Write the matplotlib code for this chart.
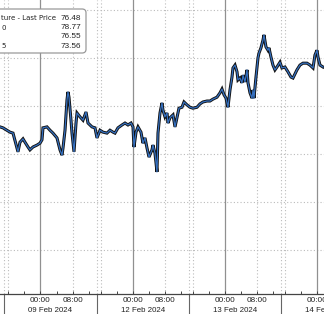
import matplotlib
matplotlib.use("Agg")
import matplotlib.pyplot as plt
import matplotlib.transforms as mtransforms
from matplotlib.patches import FancyBboxPatch

plt.rcParams['font.family'] = ['Liberation Sans', 'DejaVu Sans']

# trading-time hours since 09 Feb 2024 00:00 (each session = 23 h, 15:00 -> 14:00)
hours = [-10.09, -9.35, -8.35, -7.60, -6.85, -5.86, -5.61, -5.11, -4.36, -3.86,
         -3.11, -2.62, -1.87, -0.87, -0.12, 0.37, 0.62, 1.62, 2.37, 3.11,
         4.11, 4.86, 5.36, 5.61, 6.11, 6.60, 6.85, 7.10, 7.60, 7.85,
         8.35, 8.85, 9.10, 9.84, 10.59, 11.34, 11.84, 12.83, 13.58, 14.08,
         14.83, 15.57, 16.57, 17.32, 18.07, 18.56, 19.31, 20.31, 21.06, 21.80,
         22.55, 23.05, 23.30, 23.80, 24.30, 25.04, 25.54, 26.04, 26.54, 27.04,
         27.78, 28.03, 28.53, 29.03, 29.28, 29.78, 30.27, 30.52, 31.02, 31.52,
         31.77, 32.27, 33.02, 33.52, 34.01, 34.51, 35.26, 35.76, 36.50, 37.25,
         38.00, 39.00, 39.75, 40.49, 41.49, 42.24, 42.99, 43.98, 44.73, 45.23,
         45.73, 46.23, 46.72, 47.22, 47.72, 47.97, 48.47, 48.97, 49.21, 49.71,
         50.21, 50.46, 50.96, 51.46, 51.71, 52.21, 52.71, 52.95, 53.20, 53.70,
         54.20, 54.45, 54.94, 55.44, 55.69, 56.19, 56.69, 56.94, 57.43, 57.93,
         58.43, 58.93, 59.68, 60.17, 60.92, 61.67, 62.42, 62.92, 63.91, 64.66,
         65.41, 66.41, 67.16, 67.91, 68.40, 68.90, 69.15, 69.65, 70.40]
prices = [75.56, 75.54, 75.49, 75.45, 75.43, 75.12, 75.04, 75.24, 75.31, 75.24,
          75.14, 75.08, 75.14, 75.18, 75.22, 75.29, 75.54, 75.56, 75.49, 75.43,
          75.33, 75.08, 74.97, 75.12, 75.49, 76.12, 76.29, 76.18, 75.70, 75.43,
          75.04, 75.64, 75.85, 75.77, 75.70, 75.87, 75.64, 75.56, 75.54, 75.33,
          75.49, 75.45, 75.43, 75.49, 75.45, 75.43, 75.54, 75.60, 75.64, 75.60,
          75.64, 75.56, 75.14, 75.45, 75.56, 75.45, 75.22, 75.33, 75.12, 74.93,
          75.08, 75.18, 75.01, 74.62, 75.43, 75.85, 76.06, 75.91, 75.77, 75.85,
          75.64, 75.75, 75.81, 75.56, 75.75, 75.95, 75.97, 76.08, 76.02, 75.97,
          75.95, 75.97, 76.04, 76.08, 76.10, 76.10, 76.14, 76.18, 76.27, 76.35,
          76.23, 76.16, 75.97, 76.33, 76.60, 76.79, 76.85, 76.71, 76.54, 76.58,
          76.48, 76.64, 76.50, 76.75, 76.48, 76.27, 76.16, 76.33, 76.16, 76.60,
          77.00, 77.10, 77.21, 77.37, 77.48, 77.23, 77.16, 77.21, 77.02, 76.85,
          76.75, 76.81, 76.91, 76.79, 76.81, 76.71, 76.60, 76.58, 76.75, 76.85,
          76.89, 76.89, 76.85, 76.79, 77.06, 77.16, 77.02, 76.85, 76.81]

day_labels = ["09 Feb 2024", "12 Feb 2024", "13 Feb 2024", "14 Feb 2024"]
hour_tick_labels = ["00:00", "08:00"]
legend_names = ["ture - Last Price", "0", "", "5"]
legend_values = ["76.48", "78.77", "76.55", "73.56"]
price_grid = [73, 74, 75, 76, 77, 78]

fig = plt.figure(figsize=(3.24, 3.14), dpi=100)
fig.patch.set_facecolor("white")
ax = fig.add_axes([0, 20 / 314, 1, 294 / 314])
for s in ["top", "left", "right"]:
    ax.spines[s].set_visible(False)
ax.spines["bottom"].set_color("#444444")
ax.spines["bottom"].set_linewidth(0.9)
ax.set_yticks([])

dot = (0, (1, 2))
for p in price_grid:
    ax.axhline(p, color="#bbbbbb", lw=0.8, ls=dot, zorder=1)

majors, minors = [], []
for k in range(4):
    base = 23 * k
    ax.axvline(base, color="#909090", lw=0.9, zorder=1)
    for off in (-9, -8, 8):
        ax.axvline(base + off, color="#bbbbbb", lw=0.8, ls=dot, zorder=1)
    majors += [base, base + 8]
    minors += [base - 8, base - 4, base + 4, base + 12]

ax.set_xticks(majors)
ax.set_xticklabels(hour_tick_labels * 4)
ax.set_xticks(minors, minor=True)
ax.tick_params(axis="x", which="both", direction="in", length=2.5, width=0.7,
               colors="#444444", labelsize=5.9, pad=2.5, labelcolor="#222222")

trans = mtransforms.blended_transform_factory(ax.transData, ax.transAxes)
for k, lab in enumerate(day_labels):
    ax.text(23 * k + 2.5, -16.5 / 294, lab, transform=trans, ha="center",
            va="center", fontsize=5.7, color="#222222", clip_on=False)
    ax.plot([23 * k - 9, 23 * k - 9], [0, -20 / 294], transform=trans,
            color="#666666", lw=0.8, clip_on=False)

ax.plot(hours, prices, color="#111111", lw=2.2, zorder=3, solid_joinstyle="miter")
ax.plot(hours, prices, color="#3570c0", lw=0.9, zorder=4)

ax.set_xlim(-10.09, 70.65)
ax.set_ylim(72.071, 78.209)

# legend box (pixel coordinates of the figure)
box = FancyBboxPatch((-20 / 324, 1 - 53 / 314), 106 / 324, 44 / 314,
                     boxstyle="round,pad=0,rounding_size=0.012",
                     transform=fig.transFigure, facecolor="white",
                     edgecolor="#999999", lw=0.9, zorder=10)
fig.patches.append(box)
rows_y = [18.3, 27.5, 37, 46]
for name, val, yy in zip(legend_names, legend_values, rows_y):
    if name:
        fig.text(1 / 324, 1 - yy / 314, name, ha="left", va="center",
                 fontsize=5.0, color="#222222", zorder=11,
                 family=["DejaVu Sans"])
    fig.text(81.5 / 324, 1 - yy / 314, val, ha="right", va="center",
             fontsize=5.9, color="#222222", zorder=11)

fig.savefig("out.png", dpi=100)
